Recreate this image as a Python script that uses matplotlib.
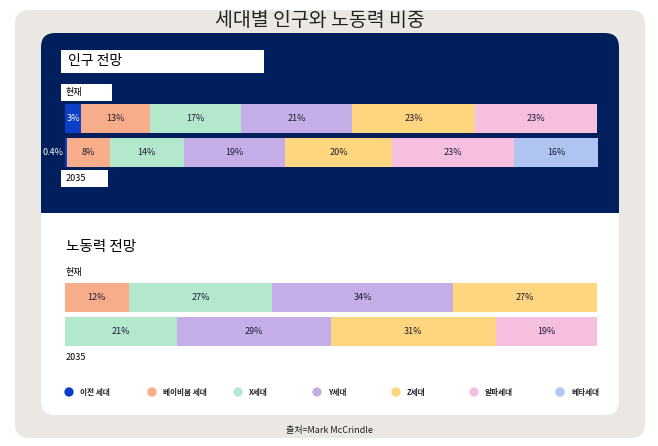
import matplotlib
matplotlib.use("Agg")
import matplotlib.pyplot as plt
from matplotlib.patches import FancyBboxPatch, Rectangle
import numpy as np

plt.rcParams['font.family'] = ['Noto Sans CJK KR', 'DejaVu Sans']

# data
generations = ["이전 세대", "베이비붐 세대", "X세대", "Y세대", "Z세대", "알파세대", "베타세대"]
gen_colors = ["#0b3fc8", "#f8ad8a", "#b4e8cc", "#c5aee8", "#fdd67f", "#f6bfe0", "#afc4f0"]

pop_now = [3, 13, 17, 21, 23, 23, 0]
pop_2035 = [0.4, 8, 14, 19, 20, 23, 16]
work_now = [0, 12, 27, 34, 27, 0, 0]
work_2035 = [0, 0, 21, 29, 31, 19, 0]

W, H = 658, 446
NAVY = "#001f5c"
BEIGE = "#ebe8e3"

fig = plt.figure(figsize=(W / 100, H / 100), dpi=100)
fig.patch.set_facecolor("white")

# background axes in pixel coordinates
bg = fig.add_axes([0, 0, 1, 1])
bg.set_xlim(0, W)
bg.set_ylim(H, 0)
bg.axis("off")

bg.add_patch(FancyBboxPatch((15, 10), 630, 428, boxstyle="round,pad=0,rounding_size=14",
                            fc=BEIGE, ec="none"))
bg.add_patch(FancyBboxPatch((41, 33), 578, 382, boxstyle="round,pad=0,rounding_size=14",
                            fc="white", ec="none"))
bg.add_patch(FancyBboxPatch((41, 33), 578, 200, boxstyle="round,pad=0,rounding_size=14",
                            fc=NAVY, ec="none"))
bg.add_patch(Rectangle((41, 213), 578, 30, fc="white", ec="none"))

bg.text(320, 21, "세대별 인구와 노동력 비중", fontsize=14, ha="center", va="center",
        color="#222222", fontweight="light")

# label boxes on navy section
bg.add_patch(Rectangle((61, 50), 203, 23, fc="white", ec="none"))
bg.text(68, 61.5, "인구 전망", fontsize=10, ha="left", va="center", color="black")
bg.add_patch(Rectangle((61, 84), 51, 17, fc="white", ec="none"))
bg.text(66, 92.5, "현재", fontsize=6.5, ha="left", va="center", color="black")
bg.add_patch(Rectangle((61, 170), 47, 17, fc="white", ec="none"))
bg.text(66, 178.5, "2035", fontsize=6.5, ha="left", va="center", color="black")

bg.text(66, 247, "노동력 전망", fontsize=10.5, ha="left", va="center", color="black")
bg.text(66, 272, "현재", fontsize=6.5, ha="left", va="center", color="black")
bg.text(66, 357, "2035", fontsize=6.5, ha="left", va="center", color="black")

# legend
leg_x = [69, 152, 238, 317, 396, 474, 560]
for x, name, c in zip(leg_x, generations, gen_colors):
    bg.scatter([x], [392], s=45, color=c, edgecolor="none")
    bg.text(x + 11, 392.5, name, fontsize=5.5, ha="left", va="center", color="#222222",
            fontweight="bold")

bg.text(329, 431, "출처=Mark McCrindle", fontsize=6.5, ha="center", va="center", color="#222222")


def stacked(ax, rows):
    for i, vals in enumerate(rows):
        left = 0
        for j, v in enumerate(vals):
            if v <= 0:
                continue
            ax.barh(i, v, left=left, height=0.85, color=gen_colors[j], edgecolor="none")
            if v >= 1:
                tc = "white" if j == 0 else "#1b1b33"
                ax.text(left + v / 2, i, f"{v:g}%", fontsize=6.5, ha="center", va="center", color=tc)
            else:
                ax.text(left - 0.3, i, f"{v:g}%", fontsize=6.5, ha="right", va="center", color="white")
            left += v
    ax.set_xlim(0, 100.2)
    ax.set_ylim(1.425, -0.425)
    ax.axis("off")


ax_pop = fig.add_axes([65 / W, 1 - 167 / H, 533 / W, 63 / H])
ax_pop.patch.set_alpha(0)
stacked(ax_pop, [pop_now, pop_2035])

ax_work = fig.add_axes([65 / W, 1 - 346 / H, 533 / W, 63 / H])
ax_work.patch.set_alpha(0)
stacked(ax_work, [work_now, work_2035])

fig.savefig("out.png", dpi=100)
